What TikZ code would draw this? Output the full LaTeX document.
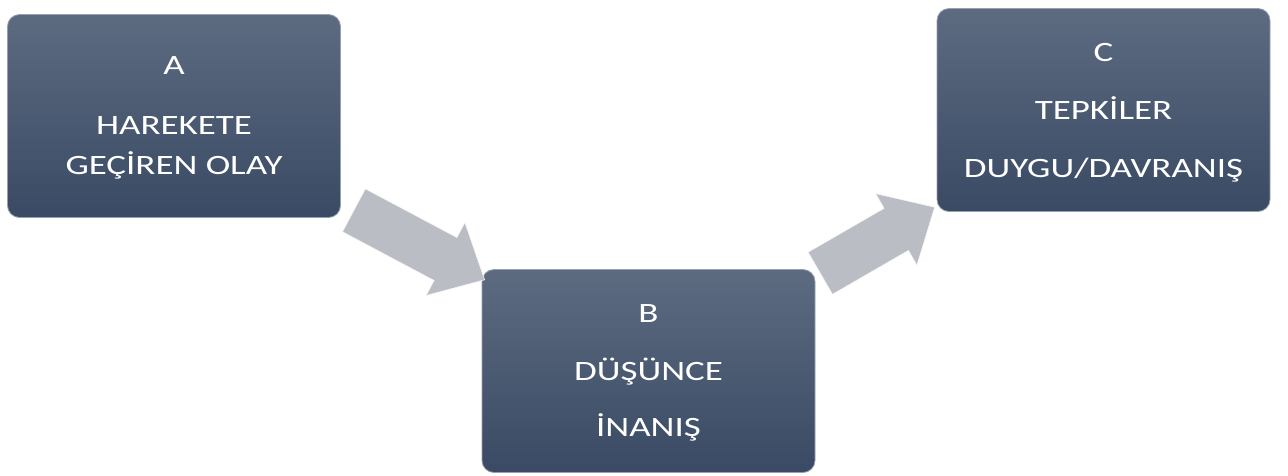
\documentclass[tikz,border=0pt]{standalone}
\usepackage{fontspec}
\newfontfamily\boxfont[FakeStretch=1.32]{Carlito}
\usetikzlibrary{shapes.arrows}
\definecolor{boxtop}{RGB}{92,107,128}
\definecolor{boxbottom}{RGB}{58,74,100}
\definecolor{boxedge}{RGB}{150,160,176}
\definecolor{arrowgray}{RGB}{186,189,196}
\tikzstyle{stagebox} = [rectangle, rounded corners=12pt, minimum width=333pt, minimum height=203pt, top color=boxtop, bottom color=boxbottom, draw=boxedge, line width=0.8pt, text=white, align=center, text depth=-5pt, font=\boxfont\fontsize{28}{40}\selectfont]
\tikzstyle{blockarrow} = [single arrow, fill=arrowgray, draw=white!85!arrowgray, line width=0.6pt, inner xsep=0pt, inner ysep=24pt, single arrow head extend=17pt, single arrow tip angle=86, anchor=tip]

\begin{document}
\begin{tikzpicture}[x=1pt, y=-1pt]
        \useasboundingbox (0,0) rectangle (1288,475);
        \node (ev) [stagebox] at (174,116) {A\\[20pt]HAREKETE\\GEÇİREN OLAY};
        \node (th) [stagebox] at (648.5,371) {B\\[18pt]DÜŞÜNCE\\[16pt]İNANIŞ};
        \node (re) [stagebox] at (1103.5,110) {C\\[18pt]TEPKİLER\\[18pt]DUYGU/DAVRANIŞ};

        % tips placed just off the boxes
        \node (evth) [blockarrow, minimum height=148pt, rotate=-28] at (485,280) {};
        \node (thre) [blockarrow, minimum height=132pt, rotate=30] at (935,207) {};
        \end{tikzpicture}
\end{document}
